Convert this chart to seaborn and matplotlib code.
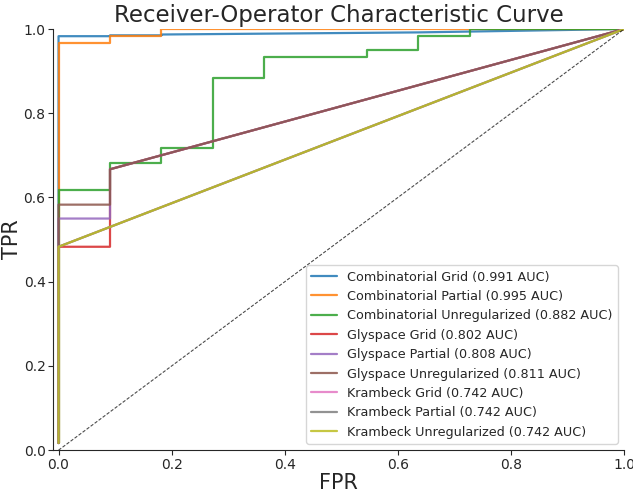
"""
ROC curves for the glycan classifier models
"""

import matplotlib
matplotlib.use("Agg")
import matplotlib.pyplot as plt
import numpy as np
import pandas as pd
import seaborn as sns

# ------------------------------------------------------------------
# Data
# ------------------------------------------------------------------
labels = [
    "Combinatorial Grid (0.991 AUC)",
    "Combinatorial Partial (0.995 AUC)",
    "Combinatorial Unregularized (0.882 AUC)",
    "Glyspace Grid (0.802 AUC)",
    "Glyspace Partial (0.808 AUC)",
    "Glyspace Unregularized (0.811 AUC)",
    "Krambeck Grid (0.742 AUC)",
    "Krambeck Partial (0.742 AUC)",
    "Krambeck Unregularized (0.742 AUC)",
]

comb_grid_fpr = [0.0, 0.0, 0.091, 0.091, 0.182, 0.182, 0.636, 1.0]
comb_grid_tpr = [0.017, 0.983, 0.983, 0.985, 0.985, 0.987, 0.992, 1.0]

comb_partial_fpr = [0.0, 0.0, 0.091, 0.091, 0.182, 0.182, 1.0]
comb_partial_tpr = [0.017, 0.967, 0.967, 0.983, 0.983, 1.0, 1.0]

comb_unreg_fpr = [0.0, 0.0, 0.091, 0.091, 0.182, 0.182, 0.273, 0.273, 0.364,
                  0.364, 0.545, 0.545, 0.636, 0.636, 0.727, 0.727, 1.0]
comb_unreg_tpr = [0.017, 0.617, 0.617, 0.683, 0.683, 0.717, 0.717, 0.883, 0.883,
                  0.933, 0.933, 0.950, 0.950, 0.983, 0.983, 1.0, 1.0]

gly_grid_fpr = [0.0, 0.0, 0.091, 0.091, 1.0]
gly_grid_tpr = [0.017, 0.483, 0.483, 0.667, 1.0]

gly_partial_fpr = [0.0, 0.0, 0.091, 0.091, 1.0]
gly_partial_tpr = [0.017, 0.550, 0.550, 0.667, 1.0]

gly_unreg_fpr = [0.0, 0.0, 0.091, 0.091, 1.0]
gly_unreg_tpr = [0.017, 0.583, 0.583, 0.667, 1.0]

kram_fpr = [0.0, 0.0, 1.0]
kram_tpr = [0.017, 0.483, 1.0]

curves = [
    (comb_grid_fpr, comb_grid_tpr),
    (comb_partial_fpr, comb_partial_tpr),
    (comb_unreg_fpr, comb_unreg_tpr),
    (gly_grid_fpr, gly_grid_tpr),
    (gly_partial_fpr, gly_partial_tpr),
    (gly_unreg_fpr, gly_unreg_tpr),
    (kram_fpr, kram_tpr),
    (kram_fpr, kram_tpr),
    (kram_fpr, kram_tpr),
]

# ------------------------------------------------------------------
# Plot
# ------------------------------------------------------------------
sns.set_style("ticks")
plt.rcParams["font.family"] = ["DejaVu Sans"]

fig = plt.figure(figsize=(6.33, 4.92), dpi=100)
ax = fig.add_axes([0.084, 0.085, 0.902, 0.856])

palette = sns.color_palette("tab10", len(labels))
for (fpr, tpr), label, color in zip(curves, labels, palette):
    df = pd.DataFrame({"FPR": fpr, "TPR": tpr})
    sns.lineplot(data=df, x="FPR", y="TPR", sort=False, estimator=None,
                 color=color, alpha=0.85, linewidth=1.6, label=label, ax=ax)

ax.plot([0, 1], [0, 1], color="black", linestyle="--", linewidth=0.8,
        alpha=0.7, dashes=(3, 1.5))

ax.set_xlim(-0.0095, 1.0)
ax.set_ylim(0.0, 1.0)
ax.set_xticks(np.arange(0, 1.01, 0.2))
ax.set_yticks(np.arange(0, 1.01, 0.2))
ax.tick_params(labelsize=10, pad=2)
ax.set_xlabel("FPR", fontsize=15, labelpad=1)
ax.set_ylabel("TPR", fontsize=15, labelpad=1)
ax.set_title("Receiver-Operator Characteristic Curve", fontsize=16.5, pad=5)
ax.legend(loc="lower right", fontsize=9.2, frameon=True)
sns.despine(ax=ax)

plt.savefig("out.png", dpi=100)
plt.close()
